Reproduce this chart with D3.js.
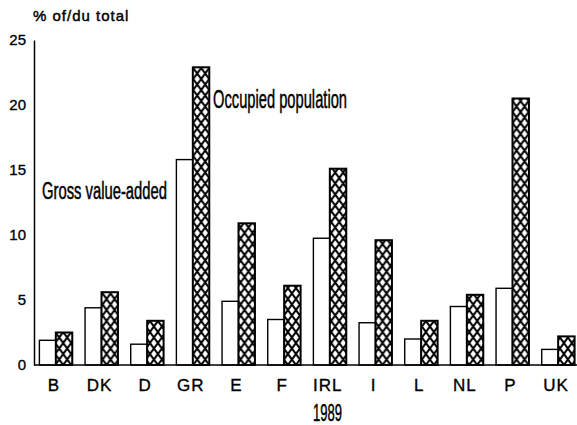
<!DOCTYPE html>
<html>
<head>
<meta charset="utf-8">
<script src="https://cdn.jsdelivr.net/npm/d3@7"></script>
<style>
  body { margin: 0; background: #fff; }
  text { font-family: "Liberation Sans", Arial, sans-serif; fill: #000; }
</style>
</head>
<body>
<script>
// countries, 1989
const countries = ["B", "DK", "D", "GR", "E", "F", "IRL", "I", "L", "NL", "P", "UK"];
const grossValueAdded = [1.9, 4.4, 1.6, 15.8, 4.9, 3.5, 9.75, 3.25, 2.0, 4.5, 5.9, 1.2];
const occupiedPopulation = [2.5, 5.6, 3.4, 22.9, 10.9, 6.1, 15.1, 9.6, 3.4, 5.4, 20.5, 2.2];
const yTicks = [0, 5, 10, 15, 20, 25];
const seriesKeys = ["gva", "occ"];

const outerWidth = 577;
const outerHeight = 425;

const svg = d3.select("body")
    .append("svg")
    .attr("width", outerWidth)
    .attr("height", outerHeight);

const y = d3.scaleLinear()
    .domain([0, 25])
    .range([365, 40]);

const x0 = d3.scaleBand()
    .domain(countries)
    .range([33, 581])
    .paddingInner(0.28)
    .paddingOuter(0.14);

const x1 = d3.scaleBand()
    .domain(seriesKeys)
    .range([0, x0.bandwidth()]);

// crosshatch pattern, one per bar so it lines up with the bar edge
const pw = 8, ph = 11;
const defs = svg.append("defs");
const pats = defs.selectAll("pattern")
    .data(countries)
    .join("pattern")
    .attr("id", (d, i) => "hatch" + i)
    .attr("patternUnits", "userSpaceOnUse")
    .attr("x", d => x0(d) + x1("occ"))
    .attr("y", y(0))
    .attr("width", pw)
    .attr("height", ph);
pats.append("rect").attr("width", pw).attr("height", ph).attr("fill", "#fff");
pats.append("path")
    .attr("d", `M0,0L${pw},${ph}M${pw},0L0,${ph}`)
    .attr("stroke", "#000")
    .attr("stroke-width", 2);

const rows = countries.map((c, i) => ({
    country: c,
    idx: i,
    values: [
        {key: "gva", value: grossValueAdded[i], idx: i},
        {key: "occ", value: occupiedPopulation[i], idx: i}
    ]
}));

// bars
const groups = svg.append("g")
    .selectAll("g")
    .data(rows)
    .join("g")
    .attr("transform", d => `translate(${x0(d.country)},0)`);

groups.selectAll("rect")
    .data(d => d.values)
    .join("rect")
    .attr("x", d => x1(d.key))
    .attr("y", d => y(d.value))
    .attr("width", x1.bandwidth())
    .attr("height", d => y(0) - y(d.value))
    .attr("fill", d => d.key === "occ" ? `url(#hatch${d.idx})` : "#fff")
    .attr("stroke", "#000")
    .attr("stroke-width", d => d.key === "occ" ? 2 : 1.4);

// y axis
const yAxis = svg.append("g")
    .attr("transform", "translate(34,0)")
    .call(d3.axisLeft(y).tickValues(yTicks).tickSize(0).tickPadding(8));
yAxis.select(".domain").attr("stroke", "#000").attr("stroke-width", 1.5);
yAxis.selectAll("text")
    .attr("font-size", 15)
    .attr("font-family", "Liberation Sans, Arial, sans-serif")
    .attr("stroke", "#000")
    .attr("stroke-width", 0.35);

// baseline
svg.append("line")
    .attr("x1", 34)
    .attr("x2", outerWidth)
    .attr("y1", y(0))
    .attr("y2", y(0))
    .attr("stroke", "#000")
    .attr("stroke-width", 1.5);

// x labels
svg.append("g")
    .selectAll("text")
    .data(countries)
    .join("text")
    .attr("x", d => x0(d) + x0.bandwidth() / 2 - 2)
    .attr("y", 391)
    .attr("text-anchor", "middle")
    .attr("font-size", 17)
    .attr("letter-spacing", 1)
    .attr("stroke", "#000")
    .attr("stroke-width", 0.35)
    .text(d => d);

// title
svg.append("text")
    .attr("x", 33)
    .attr("y", 21)
    .attr("font-size", 15)
    .attr("stroke", "#000")
    .attr("stroke-width", 0.45)
    .attr("letter-spacing", 1)
    .text("% of/du total");

// condensed annotations
function condensed(txt, xPos, yPos, size, len) {
    svg.append("text")
        .attr("x", xPos)
        .attr("y", yPos)
        .attr("font-size", size)
        .attr("textLength", len)
        .attr("lengthAdjust", "spacingAndGlyphs")
        .attr("stroke", "#000")
        .attr("stroke-width", 0.5)
        .text(txt);
}
condensed("Occupied population", 213, 108, 26, 134);
condensed("Gross value-added", 42, 199, 23, 125);
condensed("1989", 313, 421, 23, 29);
</script>
</body>
</html>
